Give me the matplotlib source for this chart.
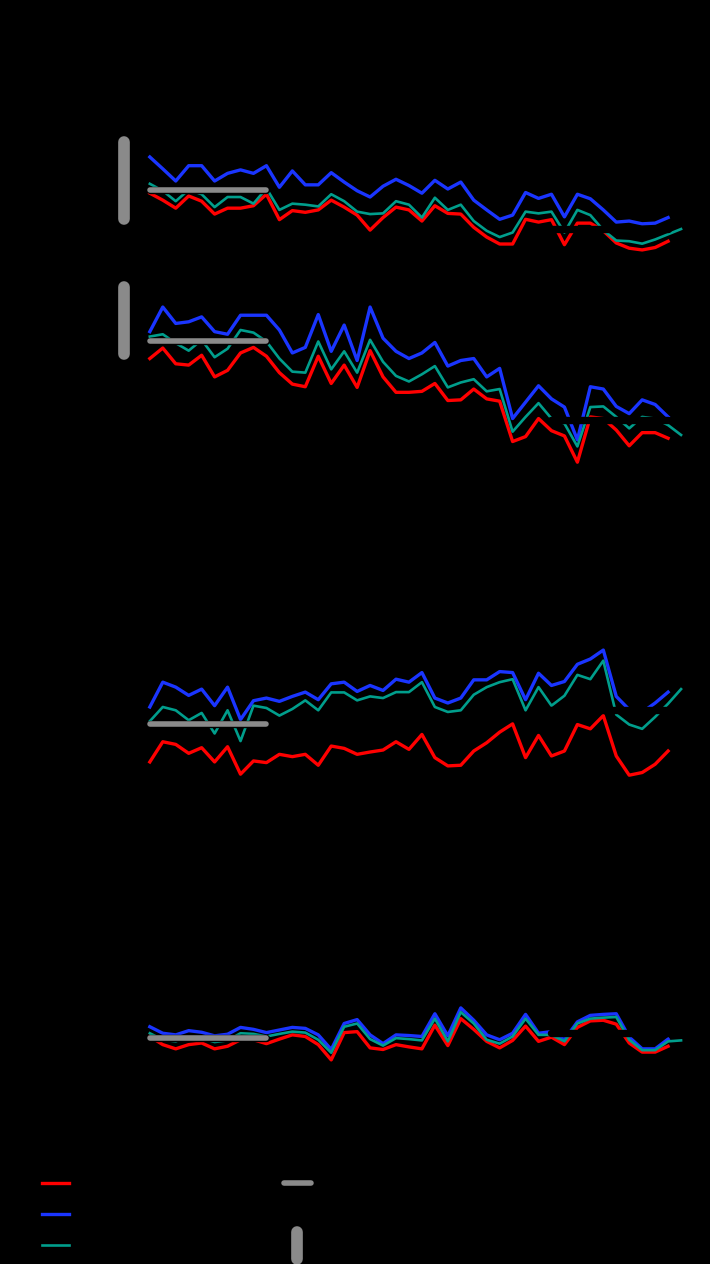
import matplotlib
matplotlib.use("Agg")
import matplotlib.pyplot as plt
import matplotlib.patheffects as pe
from matplotlib.lines import Line2D
from matplotlib.legend_handler import HandlerBase

# ---------------- data ----------------
years_short = list(range(1979, 2020))   # red / blue series
years_long = list(range(1979, 2021))    # teal series

p1_red = [2.08, 1.88, 1.65, 2.00, 1.85, 1.48, 1.65, 1.65, 1.72, 2.05,
          1.32, 1.58, 1.53, 1.60, 1.88, 1.68, 1.45, 1.02, 1.38, 1.68,
          1.60, 1.28, 1.72, 1.50, 1.48, 1.10, 0.82, 0.62, 0.62, 1.33,
          1.25, 1.32, 0.60, 1.22, 1.22, 1.00, 0.65, 0.50, 0.45, 0.52,
          0.70]
p1_blue = [3.12, 2.78, 2.43, 2.87, 2.87, 2.43, 2.65, 2.75, 2.65, 2.87,
           2.25, 2.72, 2.32, 2.32, 2.67, 2.40, 2.15, 1.97, 2.28, 2.48,
           2.30, 2.08, 2.45, 2.20, 2.40, 1.88, 1.60, 1.33, 1.45, 2.10,
           1.93, 2.05, 1.40, 2.05, 1.92, 1.60, 1.25, 1.28, 1.20, 1.22,
           1.38]
p1_teal = [2.35, 2.15, 1.85, 2.18, 2.05, 1.68, 1.97, 1.97, 1.78, 2.22,
           1.60, 1.78, 1.75, 1.70, 2.05, 1.85, 1.55, 1.48, 1.50, 1.85,
           1.75, 1.38, 1.95, 1.60, 1.75, 1.28, 1.00, 0.82, 0.95, 1.55,
           1.50, 1.55, 0.95, 1.60, 1.45, 1.02, 0.72, 0.70, 0.63, 0.75,
           0.90, 1.05]

p2_red = [1.38, 1.70, 1.22, 1.18, 1.48, 0.82, 1.02, 1.55, 1.72, 1.45,
          0.95, 0.60, 0.52, 1.45, 0.62, 1.18, 0.50, 1.62, 0.82, 0.35,
          0.35, 0.38, 0.62, 0.10, 0.12, 0.45, 0.15, 0.08, -1.15, -1.00,
          -0.45, -0.82, -0.98, -1.78, -0.40, -0.45, -0.80, -1.28, -0.88, -0.88,
          -1.05]
p2_blue = [2.20, 2.95, 2.45, 2.50, 2.65, 2.20, 2.12, 2.70, 2.70, 2.70,
           2.25, 1.55, 1.72, 2.72, 1.60, 2.40, 1.32, 2.95, 2.00, 1.60,
           1.38, 1.55, 1.87, 1.15, 1.32, 1.38, 0.82, 1.08, -0.45, 0.05,
           0.55, 0.15, -0.10, -1.10, 0.52, 0.45, -0.08, -0.30, 0.12, -0.02,
           -0.40]
p2_teal = [2.05, 2.12, 1.85, 1.62, 1.95, 1.42, 1.68, 2.25, 2.17, 1.90,
           1.38, 0.98, 0.95, 1.90, 1.05, 1.60, 0.95, 1.95, 1.28, 0.85,
           0.68, 0.90, 1.15, 0.50, 0.65, 0.75, 0.38, 0.45, -0.85, -0.40,
           0.02, -0.45, -0.60, -1.30, -0.10, -0.08, -0.40, -0.75, -0.40, -0.45,
           -0.65, -0.95]

p3_red = [0.02, 0.63, 0.55, 0.28, 0.45, 0.02, 0.48, -0.35, 0.05, 0.00,
          0.25, 0.18, 0.25, -0.08, 0.50, 0.43, 0.25, 0.32, 0.38, 0.63,
          0.40, 0.85, 0.15, -0.10, -0.08, 0.35, 0.60, 0.92, 1.17, 0.15,
          0.82, 0.20, 0.35, 1.15, 1.02, 1.42, 0.20, -0.38, -0.30, -0.05,
          0.35]
p3_blue = [1.68, 2.43, 2.28, 2.03, 2.22, 1.72, 2.28, 1.30, 1.87, 1.95,
           1.85, 2.00, 2.13, 1.90, 2.38, 2.43, 2.15, 2.33, 2.18, 2.52,
           2.43, 2.72, 1.95, 1.80, 1.95, 2.50, 2.50, 2.75, 2.72, 1.90,
           2.70, 2.33, 2.45, 2.97, 3.13, 3.40, 2.00, 1.60, 1.52, 1.80,
           2.13]
p3_teal = [1.25, 1.68, 1.58, 1.28, 1.50, 0.88, 1.58, 0.65, 1.72, 1.65,
           1.42, 1.62, 1.88, 1.58, 2.12, 2.12, 1.88, 2.00, 1.95, 2.13,
           2.13, 2.43, 1.68, 1.53, 1.58, 2.05, 2.28, 2.43, 2.52, 1.58,
           2.28, 1.72, 2.02, 2.65, 2.52, 3.08, 1.45, 1.15, 1.02, 1.38,
           1.78, 2.22]

p4_red = [2.60, 2.35, 2.22, 2.35, 2.40, 2.22, 2.30, 2.50, 2.50, 2.38,
          2.52, 2.65, 2.60, 2.35, 1.88, 2.72, 2.75, 2.25, 2.20, 2.35,
          2.28, 2.22, 2.95, 2.32, 3.15, 2.82, 2.45, 2.25, 2.48, 2.92,
          2.45, 2.58, 2.35, 2.88, 3.08, 3.10, 2.98, 2.40, 2.12, 2.12,
          2.30]
p4_blue = [2.90, 2.70, 2.65, 2.78, 2.73, 2.62, 2.67, 2.88, 2.82, 2.72,
           2.80, 2.88, 2.85, 2.65, 2.20, 3.00, 3.12, 2.65, 2.38, 2.65,
           2.63, 2.60, 3.30, 2.62, 3.48, 3.10, 2.65, 2.50, 2.70, 3.28,
           2.70, 2.75, 2.50, 3.05, 3.25, 3.28, 3.30, 2.58, 2.22, 2.22,
           2.52]
p4_teal = [2.70, 2.50, 2.45, 2.60, 2.55, 2.43, 2.48, 2.70, 2.68, 2.60,
           2.68, 2.75, 2.72, 2.50, 2.10, 2.90, 3.00, 2.52, 2.32, 2.55,
           2.52, 2.48, 3.15, 2.45, 3.35, 3.00, 2.50, 2.38, 2.60, 3.15,
           2.65, 2.65, 2.45, 3.00, 3.15, 3.18, 3.20, 2.50, 2.18, 2.18,
           2.45, 2.48]

base_period = [1979, 1988]
recent_period = [2010, 2019]
base_level = [2.18, 1.92, 1.17, 2.55]
recent_level = [1.05, -0.49, 1.59, 2.71]
range_year = 1977
range_low = [1.34, 1.52]
range_high = [3.55, 3.56]

panel_titles = ["(a)", "(b)", "(c)", "(d)"]
series_labels = ["Simulation A", "Simulation B", "Simulation C"]
bar_labels = ["1979–1988 mean", "2010–2019 mean", "Observed range"]

# ---------------- styling ----------------
RED = "#ff0000"
BLUE = "#1a35ff"
TEAL = "#009e8c"
GREY = "#8a8a8a"
BG = "black"

W, H = 710, 1264
fig = plt.figure(figsize=(W / 100, H / 100), dpi=100, facecolor=BG)

panels = [
    (p1_red, p1_blue, p1_teal, (119.4, 265.6), (0.0, 4.2), [1, 2, 3, 4]),
    (p2_red, p2_blue, p2_teal, (272.6, 469.4), (-2.0, 4.0), [-2, -1, 0, 1, 2, 3]),
    (p3_red, p3_blue, p3_teal, (630.2, 795.7), (-1.0, 4.0), [-1, 0, 1, 2, 3, 4]),
    (p4_red, p4_blue, p4_teal, (997.5, 1072.25), (1.5, 3.8), [2, 3]),
]
left_px, width_px = 98, 596

BAR_LW, VBAR_LW = 4.0, 8.4
bar_pe = [pe.Stroke(linewidth=BAR_LW + 1.3, foreground="black"), pe.Normal()]
vbar_pe = [pe.Stroke(linewidth=VBAR_LW + 1.3, foreground="black"), pe.Normal()]

for k, (r, b, t, (top, bot), ylim, yt) in enumerate(panels):
    ax = fig.add_axes([left_px / W, (H - bot) / H, width_px / W, (bot - top) / H])
    ax.set_facecolor(BG)
    ax.plot(years_short, r, color=RED, lw=2.4, zorder=2, clip_on=False)
    ax.plot(years_short, b, color=BLUE, lw=2.4, zorder=2, clip_on=False)
    ax.plot(years_long, t, color=TEAL, lw=1.9, zorder=2, clip_on=False)
    ax.plot(base_period, [base_level[k]] * 2, color=GREY, lw=BAR_LW,
            solid_capstyle="round", path_effects=bar_pe, zorder=4, clip_on=False)
    ax.plot(recent_period, [recent_level[k]] * 2, color="black", lw=BAR_LW,
            solid_capstyle="round", path_effects=bar_pe, zorder=4, clip_on=False)
    if k < len(range_low):
        ax.plot([range_year, range_year], [range_low[k], range_high[k]], color=GREY,
                lw=VBAR_LW, solid_capstyle="round", path_effects=vbar_pe, zorder=4,
                clip_on=False)
    ax.set_xlim(1975, 2021)
    ax.set_ylim(*ylim)
    ax.set_yticks(yt)
    ax.text(0.07, 0.97, panel_titles[k], transform=ax.transAxes, ha="left",
            va="top", color="black", fontsize=11)
    ax.set_ylabel("Anomaly", color="black")
    ax.tick_params(colors="black")
    if k == 0:
        ax.tick_params(labelbottom=False)
    for s in ax.spines.values():
        s.set_color("black")
    ax.spines["top"].set_visible(False)
    ax.spines["right"].set_visible(False)

fig.suptitle("Time series 1979–2020", color="black", y=0.96, fontsize=13)


class HandlerVBar(HandlerBase):
    def create_artists(self, legend, orig_handle, xdescent, ydescent, width,
                       height, fontsize, trans):
        xc = width / 2 - xdescent
        yc = height / 2 - ydescent
        line = Line2D([xc, xc], [yc - 10.0, yc + 10.0], color=orig_handle.get_color(),
                      lw=orig_handle.get_linewidth(), solid_capstyle="round",
                      path_effects=vbar_pe)
        line.set_transform(trans)
        return [line]


h_series = [Line2D([], [], color=RED, lw=2.4),
            Line2D([], [], color=BLUE, lw=2.4),
            Line2D([], [], color=TEAL, lw=1.9)]
h_bars = [Line2D([], [], color=GREY, lw=BAR_LW, solid_capstyle="round", path_effects=bar_pe),
          Line2D([], [], color="black", lw=BAR_LW, solid_capstyle="round", path_effects=bar_pe),
          Line2D([], [], color=GREY, lw=VBAR_LW)]

leg_kw = dict(loc="upper left", frameon=False, fontsize=10, handlelength=2.0,
              labelspacing=1.24, borderpad=0.4, labelcolor="black")
leg1 = fig.legend(h_series, series_labels, bbox_to_anchor=(29 / W, 1 - 1164.4 / H), **leg_kw)
leg2 = fig.legend(h_bars, bar_labels, bbox_to_anchor=(271 / W, 1 - 1164.4 / H),
                  handler_map={h_bars[2]: HandlerVBar()}, **leg_kw)

fig.savefig("out.png", dpi=100, facecolor=BG)
